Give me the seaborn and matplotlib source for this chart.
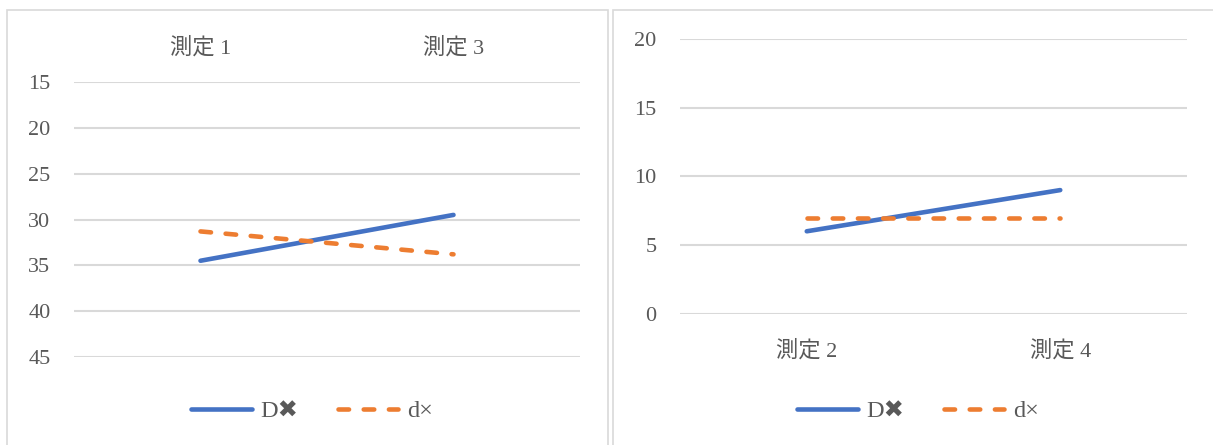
import matplotlib
matplotlib.use("Agg")
import matplotlib.pyplot as plt
from matplotlib.patches import Rectangle
import pandas as pd
import seaborn as sns

# Measurement values per series
left_categories = ["測定 1", "測定 3"]
left_D = [34.5, 29.5]
left_d = [31.3, 33.8]

right_categories = ["測定 2", "測定 4"]
right_D = [6, 9]
right_d = [7, 7]

series_names = ["D✖", "d×"]
left_yticks = [15, 20, 25, 30, 35, 40, 45]
right_yticks = [0, 5, 10, 15, 20]

sns.set_theme(style="white")
plt.rcParams["font.family"] = ["Liberation Serif", "Noto Sans CJK JP", "DejaVu Sans"]

TEXT = "#595959"
GRID = "#d9d9d9"
FS = 16
palette = {series_names[0]: "#4472C4", series_names[1]: "#ED7D31"}
dashes = {series_names[0]: "", series_names[1]: (2.3, 3.2)}

W, H = 1213, 445
fig = plt.figure(figsize=(W / 100, H / 100), dpi=100)
fig.patch.set_facecolor("white")


def px_axes(x0, x1, ytop, ybot):
    return fig.add_axes([x0 / W, 1 - ybot / H, (x1 - x0) / W, (ybot - ytop) / H])


def long_frame(categories, d_big, d_small):
    rows = []
    for c, v in zip(categories, d_big):
        rows.append({"cat": c, "value": v, "series": series_names[0]})
    for c, v in zip(categories, d_small):
        rows.append({"cat": c, "value": v, "series": series_names[1]})
    return pd.DataFrame(rows)


def draw_panel(ax, df, ylim, yticks, top_axis, legend_center):
    sns.lineplot(data=df, x="cat", y="value", hue="series", style="series",
                 palette=palette, dashes=dashes, linewidth=3.3, ax=ax,
                 legend=False, sort=False)
    for ln in ax.lines:
        ln.set_solid_capstyle("round")
        ln.set_dash_capstyle("round")
    ax.set_xlim(-0.5, 1.5)
    ax.set_ylim(*ylim)
    ax.set_yticks(yticks)
    ax.grid(axis="y", color=GRID, linewidth=1.5)
    ax.set_axisbelow(True)
    for s in ax.spines.values():
        s.set_visible(False)
    ax.set_xlabel("")
    ax.set_ylabel("")
    ax.tick_params(axis="both", length=0, labelcolor=TEXT, labelsize=FS)
    ax.tick_params(axis="y", pad=17)
    if top_axis:
        ax.xaxis.tick_top()
        ax.tick_params(axis="x", pad=17)
    else:
        ax.tick_params(axis="x", pad=19)
    ax.set_facecolor("none")

    handles = []
    for name in series_names:
        h, = ax.plot([], [], color=palette[name], linewidth=3.3,
                     solid_capstyle="round", dash_capstyle="round")
        if dashes[name]:
            h.set_dashes(dashes[name])
        handles.append(h)
    fig.legend(handles, series_names, loc="center",
               bbox_to_anchor=(legend_center[0] / W, 1 - legend_center[1] / H),
               ncol=2, frameon=False, fontsize=FS + 1.5, labelcolor=TEXT,
               handlelength=2.5, handletextpad=0.35, columnspacing=1.6)


# Panel frames
fig.add_artist(Rectangle((7 / W, -0.1), (608 - 7) / W, 1.1 - 10 / H,
                         transform=fig.transFigure, fill=False,
                         edgecolor=GRID, linewidth=1.2))
fig.add_artist(Rectangle((613 / W, -0.1), 0.6, 1.1 - 10 / H,
                         transform=fig.transFigure, fill=False,
                         edgecolor=GRID, linewidth=1.2))

ax_left = px_axes(74, 580, 82, 357)
draw_panel(ax_left, long_frame(left_categories, left_D, left_d),
           (45, 15), left_yticks, True, (312, 411))

ax_right = px_axes(680, 1187, 39, 313.7)
draw_panel(ax_right, long_frame(right_categories, right_D, right_d),
           (0, 20), right_yticks, False, (918, 411))

fig.savefig("out.png", dpi=100, facecolor="white")
